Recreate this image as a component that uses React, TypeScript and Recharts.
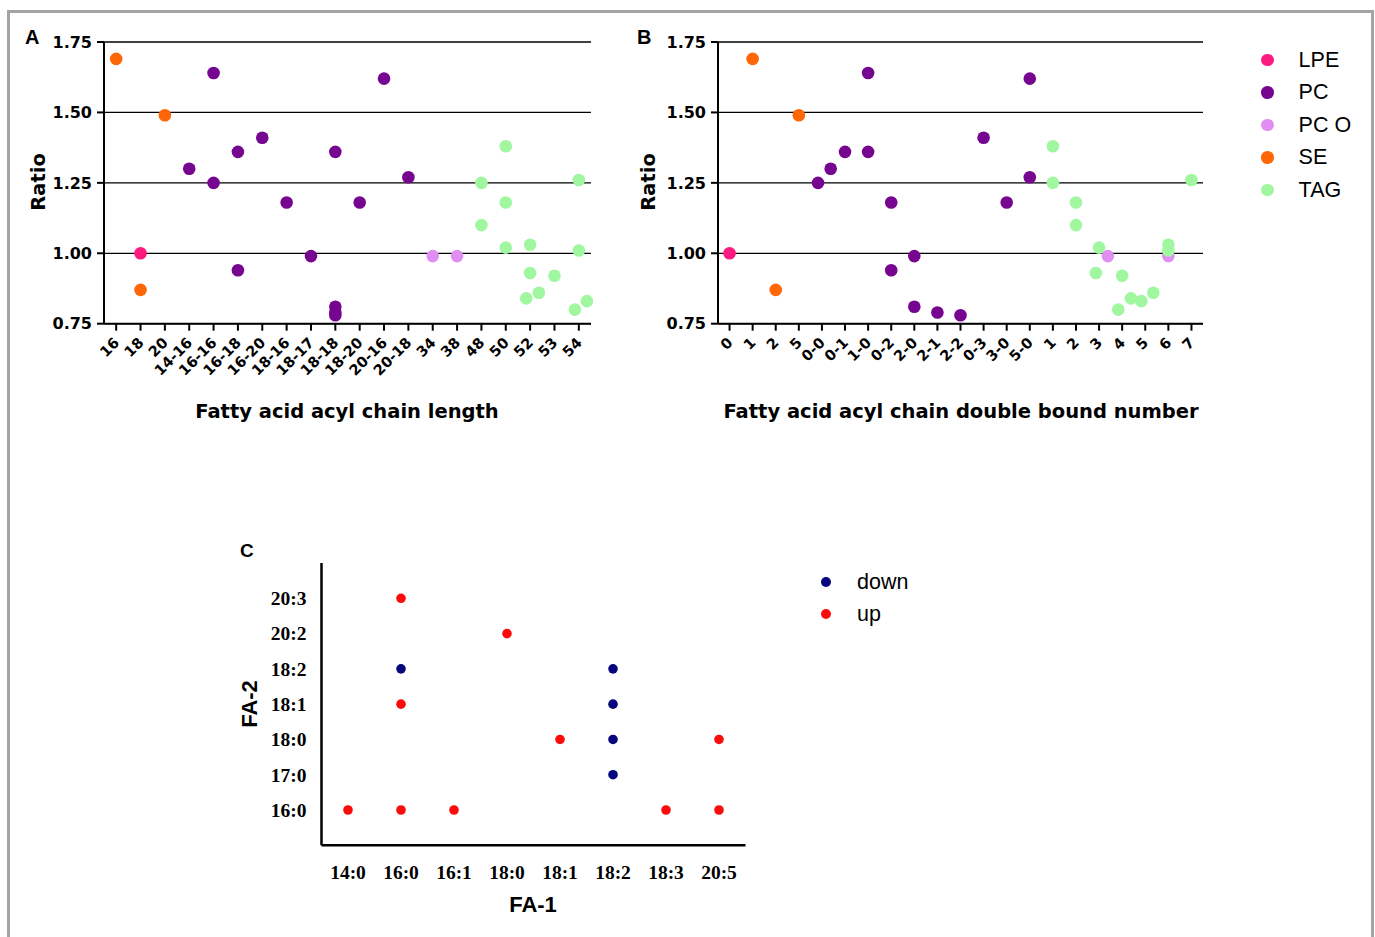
import React from "react";
import { ScatterChart, Scatter, CartesianGrid, XAxis, YAxis } from "recharts";

// panel A/B category labels
const lengthLabels = ["16", "18", "20", "14-16", "16-16", "16-18", "16-20", "18-16", "18-17", "18-18", "18-20", "20-16", "20-18", "34", "38", "48", "50", "52", "53", "54"];
const bondLabels = ["0", "1", "2", "5", "0-0", "0-1", "1-0", "0-2", "2-0", "2-1", "2-2", "0-3", "3-0", "5-0", "1", "2", "3", "4", "5", "6", "7"];
const ratioTicks = [0.75, 1.0, 1.25, 1.5, 1.75];

// pos = category slot (small offsets where dots sit side by side)
const lpeA = [{ pos: 1, ratio: 1.0 }];
const pcA = [
  { pos: 3, ratio: 1.3 }, { pos: 4, ratio: 1.64 }, { pos: 4, ratio: 1.25 }, { pos: 5, ratio: 1.36 },
  { pos: 5, ratio: 0.94 }, { pos: 6, ratio: 1.41 }, { pos: 7, ratio: 1.18 }, { pos: 8, ratio: 0.99 },
  { pos: 9, ratio: 1.36 }, { pos: 9, ratio: 0.81 }, { pos: 9, ratio: 0.79 }, { pos: 9, ratio: 0.78 },
  { pos: 10, ratio: 1.18 }, { pos: 11, ratio: 1.62 }, { pos: 12, ratio: 1.27 },
];
const pcoA = [{ pos: 13, ratio: 0.99 }, { pos: 14, ratio: 0.99 }];
const seA = [{ pos: 0, ratio: 1.69 }, { pos: 1, ratio: 0.87 }, { pos: 2, ratio: 1.49 }];
const tagA = [
  { pos: 15, ratio: 1.25 }, { pos: 15, ratio: 1.1 }, { pos: 16, ratio: 1.38 }, { pos: 16, ratio: 1.18 },
  { pos: 16, ratio: 1.02 }, { pos: 17, ratio: 1.03 }, { pos: 17, ratio: 0.93 }, { pos: 16.84, ratio: 0.84 },
  { pos: 17.36, ratio: 0.86 }, { pos: 18, ratio: 0.92 }, { pos: 19, ratio: 1.26 }, { pos: 19, ratio: 1.01 },
  { pos: 18.84, ratio: 0.8 }, { pos: 19.33, ratio: 0.83 },
];

const lpeB = [{ pos: 0, ratio: 1.0 }];
const pcB = [
  { pos: 3.83, ratio: 1.25 }, { pos: 4.38, ratio: 1.3 }, { pos: 5, ratio: 1.36 }, { pos: 6, ratio: 1.64 },
  { pos: 6, ratio: 1.36 }, { pos: 7, ratio: 1.18 }, { pos: 7, ratio: 0.94 }, { pos: 8, ratio: 0.99 },
  { pos: 8, ratio: 0.81 }, { pos: 9, ratio: 0.79 }, { pos: 10, ratio: 0.78 }, { pos: 11, ratio: 1.41 },
  { pos: 12, ratio: 1.18 }, { pos: 13, ratio: 1.62 }, { pos: 13, ratio: 1.27 },
];
const pcoB = [{ pos: 16.38, ratio: 0.99 }, { pos: 19, ratio: 0.99 }];
const seB = [{ pos: 1, ratio: 1.69 }, { pos: 2, ratio: 0.87 }, { pos: 3, ratio: 1.49 }];
const tagB = [
  { pos: 14, ratio: 1.38 }, { pos: 14, ratio: 1.25 }, { pos: 15, ratio: 1.18 }, { pos: 15, ratio: 1.1 },
  { pos: 16, ratio: 1.02 }, { pos: 15.86, ratio: 0.93 }, { pos: 17, ratio: 0.92 }, { pos: 16.83, ratio: 0.8 },
  { pos: 17.38, ratio: 0.84 }, { pos: 17.83, ratio: 0.83 }, { pos: 18.35, ratio: 0.86 }, { pos: 19, ratio: 1.03 },
  { pos: 19, ratio: 1.01 }, { pos: 20, ratio: 1.26 },
];

// panel C
const fa1Labels = ["14:0", "16:0", "16:1", "18:0", "18:1", "18:2", "18:3", "20:5"];
const fa2Labels = ["16:0", "17:0", "18:0", "18:1", "18:2", "20:2", "20:3"];
const upPairs = [
  ["14:0", "16:0"], ["16:0", "16:0"], ["16:1", "16:0"], ["18:3", "16:0"], ["20:5", "16:0"],
  ["18:1", "18:0"], ["20:5", "18:0"], ["16:0", "18:1"], ["18:0", "20:2"], ["16:0", "20:3"],
];
const downPairs = [["16:0", "18:2"], ["18:2", "18:2"], ["18:2", "18:1"], ["18:2", "18:0"], ["18:2", "17:0"]];

const classes = [
  { name: "LPE", color: "#fb1a80", a: lpeA, b: lpeB },
  { name: "PC", color: "#76068f", a: pcA, b: pcB },
  { name: "PC O", color: "#e08ef2", a: pcoA, b: pcoB },
  { name: "SE", color: "#ff6608", a: seA, b: seB },
  { name: "TAG", color: "#a0f7a0", a: tagA, b: tagB },
];
const fcClasses = [
  { name: "down", color: "#06067e", pairs: downPairs },
  { name: "up", color: "#fb0c0c", pairs: upPairs },
];

const SANS = "'DejaVu Sans', sans-serif";
const ARIAL = "'Liberation Sans', Arial, sans-serif";
const SERIF = "'Liberation Serif', 'Times New Roman', serif";

const dot = (r: number, color: string) => (props: any) =>
  <circle cx={props.cx} cy={props.cy} r={r} fill={color} />;

const RotTick = ({ x, y, payload, labels }: any) => (
  <g transform={`translate(${x + 4},${y + 11})`}>
    <text x={0} y={0} textAnchor="end" transform="rotate(-45)" fontFamily={SANS} fontWeight="bold" fontSize={14.5} fill="#000">
      {labels[payload.value]}
    </text>
  </g>
);

const Label = ({ x, y, children, style }: any) => (
  <div style={{ position: "absolute", left: x, top: y, transform: "translate(-50%,-50%)", whiteSpace: "nowrap", ...style }}>
    {children}
  </div>
);

function RatioPanel({ labels, key2, width, left, marginLeft, marginRight }: any) {
  return (
    <div style={{ position: "absolute", left, top: 0 }}>
      <ScatterChart width={width} height={440} margin={{ top: 42, right: marginRight, left: marginLeft, bottom: 36.3 }}>
        <CartesianGrid vertical={false} stroke="#000" strokeWidth={1.3} />
        <XAxis
          type="number"
          dataKey="pos"
          domain={[-0.5, labels.length - 0.5]}
          ticks={labels.map((_: string, i: number) => i)}
          interval={0}
          height={80}
          tickSize={7}
          stroke="#000"
          strokeWidth={2}
          tick={<RotTick labels={labels} />}
        />
        <YAxis
          type="number"
          dataKey="ratio"
          domain={[0.75, 1.75]}
          ticks={ratioTicks}
          interval={0}
          width={60}
          tickSize={7}
          tickMargin={5}
          stroke="#000"
          strokeWidth={2}
          tickFormatter={(v: number) => v.toFixed(2)}
          tick={{ fill: "#000", fontFamily: SANS, fontWeight: "bold", fontSize: 16 }}
        />
        {classes.map((c) => (
          <Scatter key={c.name} name={c.name} data={c[key2 as "a" | "b"]} fill={c.color} shape={dot(6.3, c.color)} isAnimationActive={false} />
        ))}
      </ScatterChart>
    </div>
  );
}

export default function App() {
  const upData = upPairs.map(([f1, f2]) => ({ fa1: fa1Labels.indexOf(f1), fa2: fa2Labels.indexOf(f2) }));
  const boldSans = { fontFamily: SANS, fontWeight: "bold", color: "#000" };
  const boldArial = { fontFamily: ARIAL, fontWeight: "bold", color: "#000" };
  return (
    <div style={{ position: "absolute", left: 0, top: 0, width: 1375, height: 937, background: "#fff", overflow: "hidden" }}>
      <div style={{ position: "absolute", left: 7, top: 10, width: 1367, height: 960, boxSizing: "border-box", border: "3px solid #a4a4a4" }} />

      <RatioPanel labels={lengthLabels} key2="a" width={620} left={0} marginLeft={44} marginRight={29} />
      <RatioPanel labels={bondLabels} key2="b" width={600} left={620} marginLeft={38} marginRight={17} />

      <div style={{ position: "absolute", left: 25, top: 26, fontSize: 20, ...boldArial }}>A</div>
      <div style={{ position: "absolute", left: 637, top: 26, fontSize: 20, ...boldArial }}>B</div>
      <Label x={38} y={182} style={{ ...boldSans, fontSize: 19.5, transform: "translate(-50%,-50%) rotate(-90deg)" }}>Ratio</Label>
      <Label x={648} y={182} style={{ ...boldSans, fontSize: 19.5, transform: "translate(-50%,-50%) rotate(-90deg)" }}>Ratio</Label>
      <Label x={347} y={411} style={{ ...boldSans, fontSize: 19.5 }}>Fatty acid acyl chain length</Label>
      <Label x={961} y={411} style={{ ...boldSans, fontSize: 19.5 }}>Fatty acid acyl chain double bound number</Label>

      {classes.map((c, i) => (
        <div key={c.name} style={{ position: "absolute", left: 1261, top: 60 + i * 32.5 - 12, height: 24, display: "flex", alignItems: "center" }}>
          <div style={{ width: 12.6, height: 12.6, borderRadius: "50%", background: c.color }} />
          <span style={{ marginLeft: 25, fontFamily: ARIAL, fontSize: 21.5, color: "#000" }}>{c.name}</span>
        </div>
      ))}

      <div style={{ position: "absolute", left: 230, top: 540 }}>
        <ScatterChart width={540} height={400} margin={{ top: 23, right: 24.5, left: 31.5, bottom: 54.7 }}>
          <XAxis
            type="number"
            dataKey="fa1"
            domain={[-0.5, 7.5]}
            ticks={fa1Labels.map((_, i) => i)}
            interval={0}
            height={40}
            tickLine={false}
            tickSize={0}
            tickMargin={20}
            stroke="#000"
            strokeWidth={2.5}
            tickFormatter={(v: number) => fa1Labels[v]}
            tick={{ fill: "#000", fontFamily: SERIF, fontWeight: "bold", fontSize: 19.5 }}
          />
          <YAxis
            type="number"
            dataKey="fa2"
            domain={[-1, 7]}
            ticks={fa2Labels.map((_, i) => i)}
            interval={0}
            width={60}
            tickLine={false}
            tickSize={0}
            tickMargin={15}
            stroke="#000"
            strokeWidth={2.5}
            tickFormatter={(v: number) => fa2Labels[v]}
            tick={{ fill: "#000", fontFamily: SERIF, fontWeight: "bold", fontSize: 19.5 }}
          />
          {fcClasses.map((c) => (
            <Scatter
              key={c.name}
              name={c.name}
              data={c.name === "up" ? upData : c.pairs.map(([f1, f2]) => ({ fa1: fa1Labels.indexOf(f1), fa2: fa2Labels.indexOf(f2) }))}
              fill={c.color}
              shape={dot(4.8, c.color)}
              isAnimationActive={false}
            />
          ))}
        </ScatterChart>
      </div>

      <div style={{ position: "absolute", left: 240, top: 540, fontSize: 19, ...boldArial }}>C</div>
      <Label x={250} y={704} style={{ ...boldArial, fontSize: 22, transform: "translate(-50%,-50%) rotate(-90deg)" }}>FA-2</Label>
      <Label x={533} y={905} style={{ ...boldArial, fontSize: 22 }}>FA-1</Label>

      {fcClasses.map((c, i) => (
        <div key={c.name} style={{ position: "absolute", left: 821, top: 582 + i * 32 - 12, height: 24, display: "flex", alignItems: "center" }}>
          <div style={{ width: 10, height: 10, borderRadius: "50%", background: c.color }} />
          <span style={{ marginLeft: 26, fontFamily: ARIAL, fontSize: 21.5, color: "#000" }}>{c.name}</span>
        </div>
      ))}
    </div>
  );
}
